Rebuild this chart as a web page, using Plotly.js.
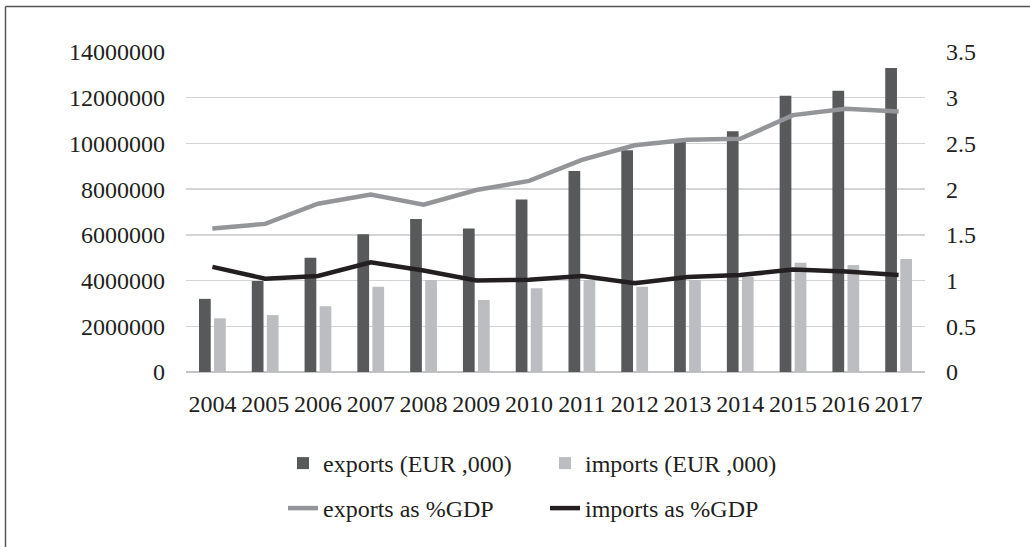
<!DOCTYPE html>
<html>
<head>
<meta charset="utf-8">
<script src="https://cdn.plot.ly/plotly-3.0.1.min.js"></script>
<style>
  html, body { margin: 0; padding: 0; background: #fff; }
  #chart { width: 1030px; height: 547px; }
</style>
</head>
<body>
<div id="chart"></div>
<script>
var years = ['2004','2005','2006','2007','2008','2009','2010','2011','2012','2013','2014','2015','2016','2017'];
var exportsEur = [3200000, 3980000, 5000000, 6030000, 6690000, 6280000, 7550000, 8790000, 9700000, 10070000, 10530000, 12090000, 12300000, 13300000];
var importsEur = [2350000, 2490000, 2880000, 3730000, 4020000, 3150000, 3660000, 4020000, 3730000, 4020000, 4170000, 4780000, 4680000, 4940000];
var exportsGdp = [1.57, 1.62, 1.84, 1.94, 1.83, 1.99, 2.09, 2.32, 2.48, 2.54, 2.55, 2.81, 2.88, 2.85];
var importsGdp = [1.15, 1.02, 1.05, 1.20, 1.11, 1.00, 1.01, 1.05, 0.97, 1.04, 1.06, 1.12, 1.10, 1.06];
var leftTicks = [0, 2000000, 4000000, 6000000, 8000000, 10000000, 12000000, 14000000];
var leftTickText = ['0','2000000','4000000','6000000','8000000','10000000','12000000','14000000'];
var rightTicks = [0, 0.5, 1, 1.5, 2, 2.5, 3, 3.5];
var rightTickText = ['0','0.5','1','1.5','2','2.5','3','3.5'];

var textColor = '#231f20';
var font = {family: 'Liberation Serif', size: 24, color: textColor};

var traces = [
  {type: 'bar', name: 'exports (EUR ,000)', x: years, y: exportsEur, marker: {color: '#58595b'}, yaxis: 'y', legend: 'legend'},
  {type: 'bar', name: 'imports (EUR ,000)', x: years, y: importsEur, marker: {color: '#bcbdc0'}, yaxis: 'y', legend: 'legend'},
  {type: 'scatter', mode: 'lines', name: 'exports as %GDP', x: years, y: exportsGdp, line: {color: '#939598', width: 4.5}, yaxis: 'y2', legend: 'legend2'},
  {type: 'scatter', mode: 'lines', name: 'imports as %GDP', x: years, y: importsGdp, line: {color: '#231f20', width: 4.5}, yaxis: 'y2', legend: 'legend2'}
];

var L = 186, R = 105, T = 52, B = 175;
var W = 1030 - L - R, H = 547 - T - B;
function px2x(p) { return (p - L) / W; }
function py2y(p) { return (547 - B - p) / H; }

var legendBase = {
  orientation: 'h', xanchor: 'left', yanchor: 'top',
  entrywidth: 217, entrywidthmode: 'pixels',
  font: font, traceorder: 'normal', bgcolor: 'rgba(0,0,0,0)'
};

var layout = {
  width: 1030, height: 547,
  margin: {l: L, r: R, t: T, b: B, pad: 0},
  paper_bgcolor: '#ffffff', plot_bgcolor: '#ffffff',
  font: font,
  barmode: 'group', bargap: 0.43, bargroupgap: 0.22,
  showlegend: true,
  legend: Object.assign({}, legendBase, {x: px2x(283), y: py2y(441)}),
  legend2: Object.assign({}, legendBase, {x: px2x(283), y: py2y(486)}),
  xaxis: {
    type: 'category', tickangle: 0, showgrid: false, zeroline: false, showline: false,
    ticks: '', ticklabelstandoff: 15, tickfont: font, fixedrange: true
  },
  yaxis: {
    range: [0, 14000000], tickvals: leftTicks, ticktext: leftTickText,
    showgrid: true, gridcolor: '#d4d4d4', gridwidth: 1.5, zeroline: true, zerolinecolor: '#c4c4c4', zerolinewidth: 2,
    showline: false, ticks: '', ticklabelstandoff: 20, tickfont: font
  },
  yaxis2: {
    range: [0, 3.5], tickvals: rightTicks, ticktext: rightTickText, overlaying: 'y', side: 'right',
    showgrid: false, zeroline: false, showline: false, ticks: '', ticklabelstandoff: 20, tickfont: font
  },
  shapes: [
    {type: 'line', xref: 'paper', yref: 'paper', x0: px2x(5.5), x1: px2x(1035), y0: py2y(6.5), y1: py2y(6.5), line: {color: '#555555', width: 1.5}},
    {type: 'line', xref: 'paper', yref: 'paper', x0: px2x(5.5), x1: px2x(5.5), y0: py2y(6.5), y1: py2y(550), line: {color: '#555555', width: 1.5}}
  ]
};

Plotly.newPlot('chart', traces, layout, {displayModeBar: false, staticPlot: true});
</script>
</body>
</html>
